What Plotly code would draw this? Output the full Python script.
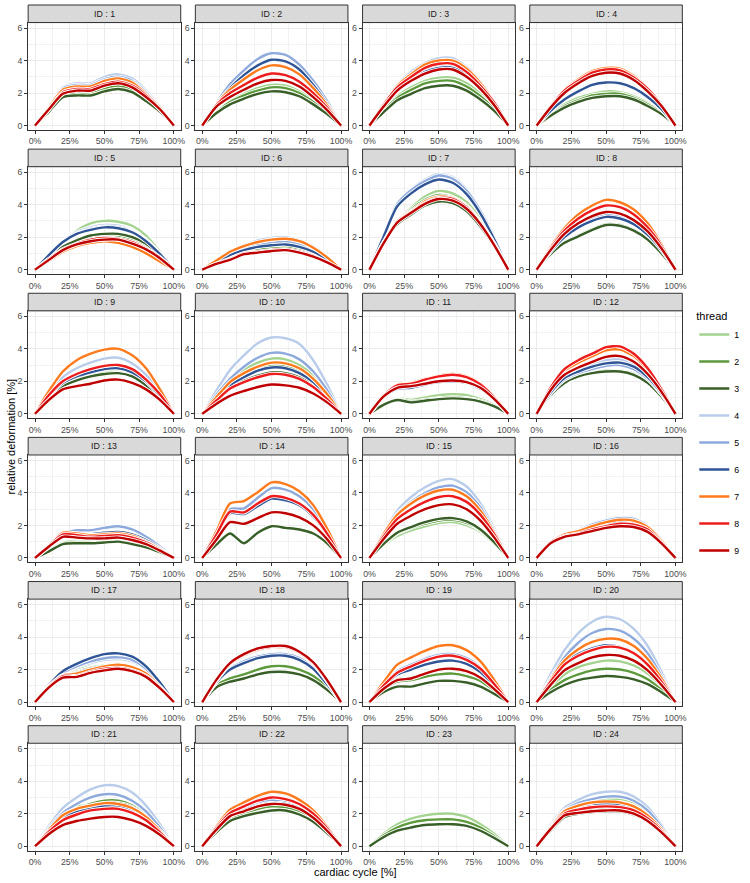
import plotly.graph_objects as go

# x positions (cardiac cycle, %)
CYCLE = [0, 10, 20, 30, 40, 50, 60, 70, 80, 90, 100]
THREADS = ["1", "2", "3", "4", "5", "6", "7", "8", "9"]
COLORS = ["#a3d38f", "#5c9a3c", "#395f28", "#b9cce9", "#8eaadd", "#2f5597",
          "#ff7a1c", "#ee1c1c", "#c00000"]
X_TICKS = [0, 25, 50, 75, 100]
X_TICK_TEXT = ["0%", "25%", "50%", "75%", "100%"]
Y_TICKS = [0, 2, 4, 6]

# each list: threads 1..9, relative deformation [%] at CYCLE
id1 = [[0,0.95,1.9,2.05,2.05,2.35,2.5,2.3,1.7,0.95,0],
       [0,0.9,1.85,1.95,1.95,2.25,2.4,2.2,1.6,0.9,0],
       [0,0.85,1.75,1.85,1.85,2.1,2.25,2.05,1.5,0.85,0],
       [0,1.2,2.35,2.6,2.6,3.0,3.15,2.9,2.15,1.2,0],
       [0,1.15,2.3,2.5,2.5,2.85,3.0,2.75,2.05,1.15,0],
       [0,1.05,2.1,2.3,2.3,2.6,2.75,2.5,1.85,1.05,0],
       [0,1.1,2.2,2.4,2.4,2.75,2.9,2.65,1.95,1.1,0],
       [0,1.0,2.05,2.25,2.25,2.55,2.7,2.45,1.85,1.0,0],
       [0,1.0,1.95,2.15,2.15,2.45,2.6,2.35,1.75,1.0,0]]
id2 = [[0,0.85,1.5,1.95,2.3,2.5,2.45,2.1,1.55,0.85,0],
       [0,0.8,1.45,1.85,2.15,2.35,2.3,2.0,1.45,0.8,0],
       [0,0.75,1.3,1.65,1.95,2.1,2.05,1.8,1.3,0.7,0],
       [0,1.35,2.55,3.45,4.15,4.5,4.4,3.8,2.8,1.5,0],
       [0,1.35,2.55,3.4,4.1,4.45,4.35,3.75,2.75,1.5,0],
       [0,1.25,2.3,3.1,3.7,4.05,3.95,3.45,2.5,1.35,0],
       [0,1.3,2.2,2.85,3.4,3.7,3.6,3.15,2.3,1.25,0],
       [0,1.25,2.0,2.5,2.95,3.2,3.1,2.7,2.0,1.1,0],
       [0,1.15,1.75,2.2,2.6,2.8,2.75,2.4,1.75,0.95,0]]
id3 = [[0,0.95,1.8,2.35,2.75,2.95,2.95,2.6,1.95,1.1,0],
       [0,0.9,1.7,2.2,2.6,2.75,2.75,2.4,1.8,1.0,0],
       [0,0.8,1.55,1.95,2.3,2.45,2.45,2.15,1.6,0.9,0],
       [0,1.35,2.5,3.3,3.85,4.15,4.15,3.6,2.7,1.5,0],
       [0,1.2,2.25,2.9,3.4,3.65,3.65,3.2,2.35,1.35,0],
       [0,1.15,2.2,2.8,3.3,3.55,3.55,3.1,2.3,1.3,0],
       [0,1.3,2.45,3.15,3.75,4.0,4.0,3.5,2.6,1.45,0],
       [0,1.25,2.35,3.0,3.55,3.8,3.8,3.3,2.45,1.4,0],
       [0,1.15,2.15,2.75,3.2,3.45,3.45,3.0,2.25,1.25,0]]
id4 = [[0,0.7,1.3,1.7,1.95,2.1,2.05,1.8,1.4,0.8,0],
       [0,0.65,1.2,1.55,1.85,1.95,1.95,1.7,1.3,0.75,0],
       [0,0.6,1.1,1.45,1.7,1.8,1.8,1.6,1.2,0.7,0],
       [0,0.9,1.65,2.15,2.55,2.7,2.65,2.3,1.75,1.0,0],
       [0,0.9,1.65,2.1,2.5,2.65,2.6,2.3,1.7,1.0,0],
       [0,0.9,1.6,2.1,2.5,2.65,2.6,2.3,1.75,1.0,0],
       [0,1.2,2.2,2.85,3.35,3.55,3.5,3.05,2.3,1.3,0],
       [0,1.15,2.15,2.75,3.25,3.45,3.4,2.95,2.25,1.25,0],
       [0,1.1,2.0,2.6,3.05,3.25,3.2,2.8,2.1,1.2,0]]
id5 = [[0,0.85,1.7,2.4,2.85,3.0,2.95,2.7,2.1,1.1,0],
       [0,0.7,1.35,1.7,2.0,2.1,2.1,1.9,1.5,0.85,0],
       [0,0.75,1.4,1.8,2.1,2.2,2.2,2.0,1.6,0.9,0],
       [0,0.95,1.75,2.3,2.6,2.75,2.7,2.4,1.85,1.0,0],
       [0,0.9,1.7,2.2,2.5,2.65,2.6,2.35,1.8,1.0,0],
       [0,0.9,1.7,2.2,2.45,2.6,2.55,2.3,1.75,0.95,0],
       [0,0.55,1.1,1.45,1.65,1.75,1.65,1.4,1.0,0.5,0],
       [0,0.65,1.25,1.6,1.85,1.95,1.9,1.7,1.3,0.75,0],
       [0,0.6,1.2,1.55,1.75,1.85,1.85,1.6,1.25,0.7,0]]
id6 = [[0,0.4,0.8,1.1,1.3,1.4,1.45,1.3,1.0,0.55,0],
       [0,0.4,0.75,1.0,1.2,1.3,1.35,1.2,0.95,0.5,0],
       [0,0.35,0.7,0.95,1.05,1.15,1.2,1.1,0.85,0.45,0],
       [0,0.6,1.15,1.5,1.8,1.95,2.0,1.8,1.4,0.8,0],
       [0,0.5,1.0,1.3,1.5,1.65,1.7,1.55,1.2,0.65,0],
       [0,0.45,0.9,1.2,1.4,1.5,1.55,1.4,1.1,0.6,0],
       [0,0.55,1.1,1.45,1.7,1.85,1.9,1.75,1.35,0.75,0],
       [0,0.35,0.65,1.0,1.1,1.2,1.25,1.1,0.85,0.45,0],
       [0,0.35,0.6,0.95,1.05,1.15,1.2,1.05,0.8,0.45,0]]
id7 = [[0,1.7,2.95,3.8,4.5,4.85,4.7,4.15,3.1,1.7,0],
       [0,1.7,2.9,3.7,4.3,4.6,4.45,3.95,2.95,1.6,0],
       [0,1.6,2.8,3.4,3.95,4.2,4.1,3.6,2.65,1.45,0],
       [0,2.1,4.1,4.95,5.55,5.9,5.7,4.95,3.65,2.0,0],
       [0,2.05,4.05,4.9,5.45,5.8,5.6,4.85,3.6,1.95,0],
       [0,2.0,3.9,4.7,5.25,5.55,5.35,4.65,3.45,1.85,0],
       [0,1.65,3.0,3.6,4.2,4.5,4.4,3.9,2.9,1.6,0],
       [0,1.65,2.95,3.55,4.1,4.4,4.35,3.85,2.85,1.55,0],
       [0,1.6,2.9,3.5,4.05,4.35,4.25,3.75,2.8,1.5,0]]
id8 = [[0,1.0,1.7,2.1,2.5,2.8,2.75,2.45,1.9,1.05,0],
       [0,1.0,1.7,2.1,2.5,2.8,2.75,2.45,1.9,1.05,0],
       [0,0.95,1.65,2.05,2.45,2.75,2.7,2.4,1.85,1.0,0],
       [0,1.15,2.1,2.7,3.15,3.4,3.3,2.95,2.25,1.25,0],
       [0,1.15,2.05,2.7,3.1,3.35,3.25,2.9,2.25,1.25,0],
       [0,1.1,2.0,2.6,3.0,3.25,3.15,2.8,2.15,1.2,0],
       [0,1.4,2.55,3.4,3.95,4.3,4.15,3.7,2.85,1.55,0],
       [0,1.3,2.4,3.15,3.65,3.95,3.85,3.4,2.6,1.45,0],
       [0,1.2,2.2,2.85,3.3,3.55,3.45,3.05,2.35,1.3,0]]
id9 = [[0,1.05,1.85,2.2,2.45,2.65,2.7,2.45,1.9,1.05,0],
       [0,1.0,1.75,2.1,2.35,2.5,2.55,2.35,1.8,1.0,0],
       [0,1.0,1.7,2.05,2.3,2.45,2.5,2.3,1.75,1.0,0],
       [0,1.25,2.25,2.8,3.15,3.4,3.45,3.1,2.4,1.35,0],
       [0,1.1,1.95,2.35,2.6,2.8,2.85,2.6,2.0,1.15,0],
       [0,1.1,1.9,2.3,2.55,2.75,2.8,2.55,2.0,1.1,0],
       [0,1.4,2.6,3.3,3.7,3.95,4.0,3.6,2.8,1.5,0],
       [0,1.15,2.0,2.45,2.75,2.95,3.0,2.75,2.1,1.2,0],
       [0,0.85,1.5,1.7,1.85,2.05,2.1,1.9,1.5,0.85,0]]
id10 = [[0,1.05,2.0,2.7,3.15,3.4,3.35,3.0,2.35,1.3,0],
        [0,0.95,1.85,2.35,2.75,2.95,2.9,2.6,2.0,1.1,0],
        [0,0.85,1.6,2.05,2.35,2.55,2.5,2.25,1.75,0.95,0],
        [0,1.4,2.7,3.6,4.35,4.7,4.65,4.3,3.3,1.8,0],
        [0,1.15,2.15,2.9,3.45,3.75,3.7,3.35,2.6,1.45,0],
        [0,0.9,1.75,2.25,2.65,2.85,2.8,2.5,1.95,1.05,0],
        [0,1.0,1.95,2.5,2.9,3.15,3.1,2.8,2.15,1.2,0],
        [0,0.8,1.55,1.95,2.25,2.45,2.4,2.15,1.65,0.9,0],
        [0,0.6,1.1,1.4,1.65,1.8,1.75,1.6,1.25,0.7,0]]
id11 = [[0,0.6,0.95,0.85,1.0,1.15,1.2,1.15,0.9,0.55,0],
        [0,0.55,0.9,0.75,0.85,0.95,1.0,0.95,0.8,0.5,0],
        [0,0.55,0.85,0.7,0.8,0.9,0.95,0.9,0.75,0.45,0],
        [0,1.05,1.65,1.7,1.9,2.05,2.1,2.0,1.6,0.95,0],
        [0,1.0,1.6,1.65,1.85,2.0,2.05,1.95,1.55,0.9,0],
        [0,1.0,1.55,1.6,1.8,1.95,2.0,1.9,1.55,0.9,0],
        [0,1.1,1.8,1.9,2.15,2.35,2.45,2.3,1.85,1.05,0],
        [0,1.1,1.75,1.85,2.1,2.3,2.4,2.25,1.8,1.0,0],
        [0,1.05,1.6,1.7,1.85,2.0,2.05,1.95,1.6,0.9,0]]
id12 = [[0,1.15,1.95,2.35,2.55,2.65,2.65,2.45,1.95,1.1,0],
        [0,1.15,1.9,2.3,2.5,2.65,2.6,2.45,1.95,1.1,0],
        [0,1.15,1.9,2.3,2.5,2.6,2.6,2.4,1.9,1.05,0],
        [0,1.35,2.25,2.7,3.05,3.3,3.35,3.05,2.35,1.3,0],
        [0,1.25,2.1,2.5,2.75,2.95,3.0,2.75,2.15,1.2,0],
        [0,1.3,2.2,2.6,2.9,3.1,3.15,2.9,2.25,1.25,0],
        [0,1.55,2.65,3.15,3.55,3.9,3.95,3.55,2.7,1.45,0],
        [0,1.6,2.75,3.3,3.7,4.1,4.15,3.7,2.8,1.5,0],
        [0,1.45,2.4,2.85,3.2,3.5,3.55,3.2,2.45,1.35,0]]
id13 = [[0,0.5,0.95,1.05,1.05,1.1,1.15,1.0,0.75,0.4,0],
        [0,0.45,0.9,0.95,0.95,1.0,1.05,0.9,0.7,0.35,0],
        [0,0.4,0.85,0.9,0.9,0.95,1.0,0.85,0.65,0.35,0],
        [0,0.7,1.45,1.65,1.65,1.8,1.9,1.7,1.25,0.7,0],
        [0,0.75,1.5,1.7,1.7,1.85,1.95,1.75,1.3,0.7,0],
        [0,0.7,1.4,1.45,1.45,1.55,1.6,1.45,1.1,0.6,0],
        [0,0.75,1.55,1.5,1.4,1.45,1.5,1.35,1.0,0.55,0],
        [0,0.75,1.45,1.4,1.3,1.35,1.4,1.25,0.95,0.5,0],
        [0,0.7,1.3,1.25,1.2,1.2,1.25,1.1,0.85,0.45,0]]
id14 = [[0,0.8,1.45,0.95,1.6,1.95,1.85,1.8,1.55,0.95,0],
        [0,0.8,1.45,0.9,1.55,1.95,1.85,1.75,1.5,0.9,0],
        [0,0.8,1.5,0.9,1.55,1.95,1.85,1.75,1.5,0.9,0],
        [0,1.6,3.3,3.5,4.1,4.7,4.6,4.15,3.3,1.8,0],
        [0,1.5,3.0,3.05,3.7,4.3,4.2,3.8,3.0,1.65,0],
        [0,1.35,2.75,2.7,3.2,3.65,3.55,3.25,2.55,1.45,0],
        [0,1.6,3.35,3.5,4.05,4.65,4.55,4.1,3.25,1.8,0],
        [0,1.4,2.85,2.8,3.35,3.8,3.7,3.35,2.65,1.5,0],
        [0,1.1,2.2,2.1,2.45,2.8,2.75,2.5,2.0,1.15,0]]
id15 = [[0,0.75,1.35,1.7,1.95,2.15,2.2,2.0,1.6,0.85,0],
        [0,0.8,1.5,1.85,2.1,2.3,2.35,2.15,1.7,0.9,0],
        [0,0.85,1.55,1.9,2.2,2.4,2.45,2.25,1.75,0.95,0],
        [0,1.5,2.9,3.75,4.35,4.75,4.85,4.4,3.35,1.8,0],
        [0,1.4,2.7,3.45,4.0,4.35,4.45,4.05,3.1,1.65,0],
        [0,1.3,2.4,3.0,3.45,3.75,3.8,3.45,2.65,1.45,0],
        [0,1.45,2.65,3.35,3.85,4.15,4.2,3.8,2.9,1.55,0],
        [0,1.3,2.4,3.0,3.45,3.75,3.8,3.45,2.65,1.45,0],
        [0,1.15,2.1,2.6,3.0,3.25,3.3,3.0,2.3,1.25,0]]
id16 = [[0,0.9,1.4,1.6,1.85,2.05,2.2,2.15,1.8,1.0,0],
        [0,0.9,1.35,1.5,1.75,1.95,2.05,2.0,1.7,0.95,0],
        [0,0.85,1.3,1.45,1.7,1.9,2.0,1.95,1.65,0.9,0],
        [0,0.95,1.5,1.75,2.1,2.35,2.5,2.45,2.0,1.1,0],
        [0,0.95,1.45,1.7,2.05,2.3,2.45,2.4,1.95,1.1,0],
        [0,0.95,1.45,1.65,1.9,2.15,2.25,2.2,1.85,1.0,0],
        [0,0.95,1.45,1.65,1.95,2.2,2.35,2.3,1.9,1.05,0],
        [0,0.95,1.35,1.5,1.75,1.95,2.1,2.05,1.75,0.95,0],
        [0,0.9,1.3,1.45,1.65,1.85,1.95,1.9,1.6,0.9,0]]
id17 = [[0,1.0,1.7,2.05,2.35,2.6,2.65,2.5,1.95,1.05,0],
        [0,0.95,1.6,1.85,2.1,2.25,2.3,2.15,1.75,0.95,0],
        [0,0.95,1.6,1.8,2.05,2.2,2.25,2.1,1.7,0.95,0],
        [0,1.0,1.75,2.15,2.4,2.6,2.65,2.5,2.0,1.1,0],
        [0,1.0,1.8,2.2,2.5,2.7,2.75,2.6,2.05,1.1,0],
        [0,1.05,1.9,2.35,2.7,2.95,3.0,2.8,2.2,1.2,0],
        [0,0.95,1.65,1.75,2.0,2.2,2.3,2.15,1.75,0.95,0],
        [0,0.95,1.6,1.6,1.85,2.05,2.1,1.95,1.6,0.9,0],
        [0,0.9,1.5,1.55,1.8,1.95,2.05,1.9,1.55,0.85,0]]
id18 = [[0,1.0,1.45,1.7,2.0,2.2,2.2,2.0,1.6,0.9,0],
        [0,1.0,1.45,1.7,2.0,2.2,2.2,2.0,1.6,0.9,0],
        [0,0.9,1.25,1.45,1.7,1.85,1.85,1.7,1.35,0.75,0],
        [0,1.25,2.1,2.55,2.85,3.0,3.0,2.75,2.15,1.15,0],
        [0,1.25,2.05,2.5,2.8,2.95,2.95,2.7,2.1,1.15,0],
        [0,1.2,2.0,2.4,2.7,2.85,2.85,2.6,2.05,1.1,0],
        [0,1.3,2.3,2.85,3.2,3.35,3.35,3.0,2.35,1.3,0],
        [0,1.35,2.35,2.9,3.25,3.4,3.4,3.05,2.4,1.3,0],
        [0,1.35,2.4,2.95,3.3,3.45,3.45,3.1,2.45,1.35,0]]
id19 = [[0,0.8,1.4,1.5,1.75,1.95,2.0,1.85,1.45,0.8,0],
        [0,0.75,1.25,1.35,1.55,1.7,1.75,1.6,1.3,0.7,0],
        [0,0.6,0.95,0.95,1.15,1.3,1.3,1.2,0.95,0.5,0],
        [0,1.05,1.95,2.35,2.7,2.95,3.0,2.75,2.15,1.15,0],
        [0,1.05,1.9,2.3,2.65,2.9,2.95,2.7,2.1,1.15,0],
        [0,0.95,1.7,2.0,2.3,2.5,2.55,2.35,1.85,1.0,0],
        [0,1.2,2.3,2.75,3.15,3.45,3.5,3.2,2.5,1.35,0],
        [0,1.0,1.8,2.2,2.55,2.8,2.85,2.6,2.05,1.1,0],
        [0,0.8,1.35,1.45,1.75,2.0,2.05,1.9,1.5,0.8,0]]
id20 = [[0,0.9,1.7,2.15,2.4,2.55,2.5,2.25,1.75,0.95,0],
        [0,0.75,1.35,1.7,1.95,2.05,2.0,1.8,1.4,0.75,0],
        [0,0.6,1.05,1.35,1.5,1.6,1.55,1.4,1.1,0.6,0],
        [0,1.7,3.2,4.25,4.95,5.25,5.1,4.5,3.45,1.85,0],
        [0,1.45,2.75,3.65,4.25,4.5,4.4,3.9,3.0,1.6,0],
        [0,1.3,2.4,2.95,3.3,3.5,3.4,3.05,2.35,1.3,0],
        [0,1.35,2.55,3.25,3.7,3.9,3.85,3.45,2.65,1.45,0],
        [0,1.25,2.3,2.85,3.2,3.4,3.35,3.0,2.3,1.25,0],
        [0,1.05,1.95,2.4,2.75,2.9,2.85,2.55,1.95,1.05,0]]
id21 = [[0,1.15,2.2,2.45,2.55,2.7,2.65,2.4,1.85,1.0,0],
        [0,0.95,1.8,2.25,2.6,2.8,2.8,2.5,1.9,1.0,0],
        [0,0.95,1.75,2.15,2.45,2.65,2.65,2.4,1.85,1.0,0],
        [0,1.25,2.35,3.0,3.5,3.75,3.7,3.3,2.5,1.35,0],
        [0,1.1,2.05,2.6,3.0,3.2,3.15,2.8,2.15,1.15,0],
        [0,0.95,1.75,2.15,2.35,2.5,2.5,2.25,1.75,0.95,0],
        [0,1.0,1.9,2.3,2.5,2.65,2.6,2.35,1.8,0.95,0],
        [0,0.9,1.6,1.95,2.2,2.3,2.3,2.05,1.6,0.85,0],
        [0,0.75,1.3,1.55,1.7,1.8,1.8,1.6,1.25,0.7,0]]
id22 = [[0,0.95,1.75,2.1,2.35,2.5,2.45,2.2,1.7,0.95,0],
        [0,0.9,1.7,2.0,2.3,2.45,2.4,2.15,1.65,0.9,0],
        [0,0.85,1.55,1.85,2.05,2.2,2.2,1.95,1.5,0.8,0],
        [0,1.15,2.15,2.6,3.0,3.3,3.2,2.85,2.2,1.2,0],
        [0,1.05,1.95,2.35,2.65,2.85,2.8,2.5,1.95,1.05,0],
        [0,1.0,1.85,2.2,2.5,2.65,2.6,2.35,1.8,1.0,0],
        [0,1.2,2.25,2.7,3.1,3.35,3.25,2.85,2.2,1.2,0],
        [0,1.1,2.05,2.45,2.8,3.0,2.9,2.6,2.0,1.1,0],
        [0,1.0,1.85,2.15,2.45,2.6,2.55,2.3,1.75,0.95,0]]
id23 = [[0,0.75,1.35,1.7,1.9,2.0,2.0,1.8,1.35,0.75,0],
        [0,0.65,1.15,1.45,1.6,1.65,1.65,1.5,1.15,0.6,0],
        [0,0.55,0.95,1.15,1.3,1.35,1.35,1.25,0.95,0.5,0],
        None, None, None, None, None, None]
id24 = [[0,1.1,2.0,2.45,2.75,2.9,2.9,2.7,2.1,1.15,0],
        [0,1.0,1.85,2.15,2.3,2.4,2.4,2.2,1.7,0.95,0],
        [0,0.95,1.8,2.0,2.1,2.15,2.15,1.95,1.55,0.85,0],
        [0,1.3,2.35,2.85,3.2,3.35,3.35,3.05,2.4,1.3,0],
        [0,1.2,2.2,2.65,2.9,3.05,3.05,2.8,2.2,1.2,0],
        [0,1.05,1.95,2.3,2.5,2.6,2.6,2.4,1.85,1.0,0],
        [0,1.15,2.15,2.5,2.7,2.75,2.7,2.45,1.9,1.05,0],
        [0,1.1,2.0,2.25,2.4,2.45,2.4,2.2,1.7,0.95,0],
        [0,1.05,1.9,2.05,2.15,2.2,2.2,2.0,1.55,0.85,0]]

PANELS = [id1, id2, id3, id4, id5, id6, id7, id8, id9, id10, id11, id12,
          id13, id14, id15, id16, id17, id18, id19, id20, id21, id22, id23, id24]
PANEL_LABELS = [f"ID : {i}" for i in range(1, 25)]

W, H = 750, 883
FONT = "Liberation Sans, Arial, sans-serif"

fig = go.Figure()
layout = {}
shapes = []
annotations = []

for k, data in enumerate(PANELS):
    r, c = divmod(k, 4)
    sfx = "" if k == 0 else str(k + 1)
    xa, ya = "x" + sfx, "y" + sfx
    for t in range(9):
        vals = data[t]
        if vals is None:
            continue
        fig.add_trace(go.Scatter(
            x=CYCLE, y=vals, mode="lines", xaxis=xa, yaxis=ya,
            line=dict(color="white", width=4.2, shape="spline", smoothing=0.7),
            showlegend=False, hoverinfo="skip"))
        fig.add_trace(go.Scatter(
            x=CYCLE, y=vals, mode="lines", xaxis=xa, yaxis=ya,
            line=dict(color=COLORS[t], width=2.4, shape="spline", smoothing=0.7),
            name=THREADS[t], legendgroup=THREADS[t], showlegend=(k == 0)))

    left = 28.3 + 168.1 * c
    right = left + 153.4
    top = 5 + 144.3 * r
    sbot = top + 17.6
    pbot = top + 125
    x0, x1 = left / W, right / W
    y0, y1 = 1 - pbot / H, 1 - sbot / H

    common = dict(showline=True, mirror=True, linecolor="#333333", linewidth=1,
                  ticks="outside", ticklen=3, tickcolor="#333333", tickwidth=1,
                  gridcolor="#ebebeb", gridwidth=1, zeroline=False,
                  tickfont=dict(family=FONT, size=8.8, color="#4d4d4d"))
    layout["xaxis" + sfx] = dict(domain=[x0, x1], anchor=ya, range=[-5, 105],
                                 tickmode="array", tickvals=X_TICKS, ticktext=X_TICK_TEXT,
                                 minor=dict(tickvals=[12.5, 37.5, 62.5, 87.5], showgrid=True,
                                            gridcolor="#f2f2f2", gridwidth=0.6, ticks=""),
                                 **common)
    layout["yaxis" + sfx] = dict(domain=[y0, y1], anchor=xa, range=[-0.27, 6.34],
                                 tickmode="array", tickvals=Y_TICKS,
                                 minor=dict(tickvals=[1, 3, 5], showgrid=True,
                                            gridcolor="#f2f2f2", gridwidth=0.6, ticks=""),
                                 **common)
    shapes.append(dict(type="rect", xref="paper", yref="paper",
                       x0=x0, x1=x1, y0=1 - sbot / H, y1=1 - top / H,
                       fillcolor="#d9d9d9", line=dict(color="#333333", width=1)))
    annotations.append(dict(text=PANEL_LABELS[k], xref="paper", yref="paper",
                            x=(x0 + x1) / 2, y=1 - (top + sbot) / 2 / H,
                            xanchor="center", yanchor="middle", showarrow=False,
                            font=dict(family=FONT, size=8.8, color="#1a1a1a")))

annotations.append(dict(text="relative deformation [%]", xref="paper", yref="paper",
                        x=11 / W, y=1 - 437 / H, textangle=-90, showarrow=False,
                        xanchor="center", yanchor="middle",
                        font=dict(family=FONT, size=11, color="#000000")))
annotations.append(dict(text="cardiac cycle [%]", xref="paper", yref="paper",
                        x=357 / W, y=1 - 873 / H, showarrow=False,
                        xanchor="center", yanchor="middle",
                        font=dict(family=FONT, size=11, color="#000000")))

fig.update_layout(
    width=W, height=H, autosize=False,
    margin=dict(l=0, r=0, t=0, b=0),
    paper_bgcolor="white", plot_bgcolor="white",
    shapes=shapes, annotations=annotations,
    legend=dict(x=698 / W, y=1 - 306 / H, xanchor="left", yanchor="top",
                title=dict(text="thread", font=dict(family=FONT, size=11, color="#000000")),
                font=dict(family=FONT, size=8.8, color="#000000"),
                tracegroupgap=8, itemwidth=30, bgcolor="rgba(0,0,0,0)"),
    **layout)

fig.write_html("out.html")
